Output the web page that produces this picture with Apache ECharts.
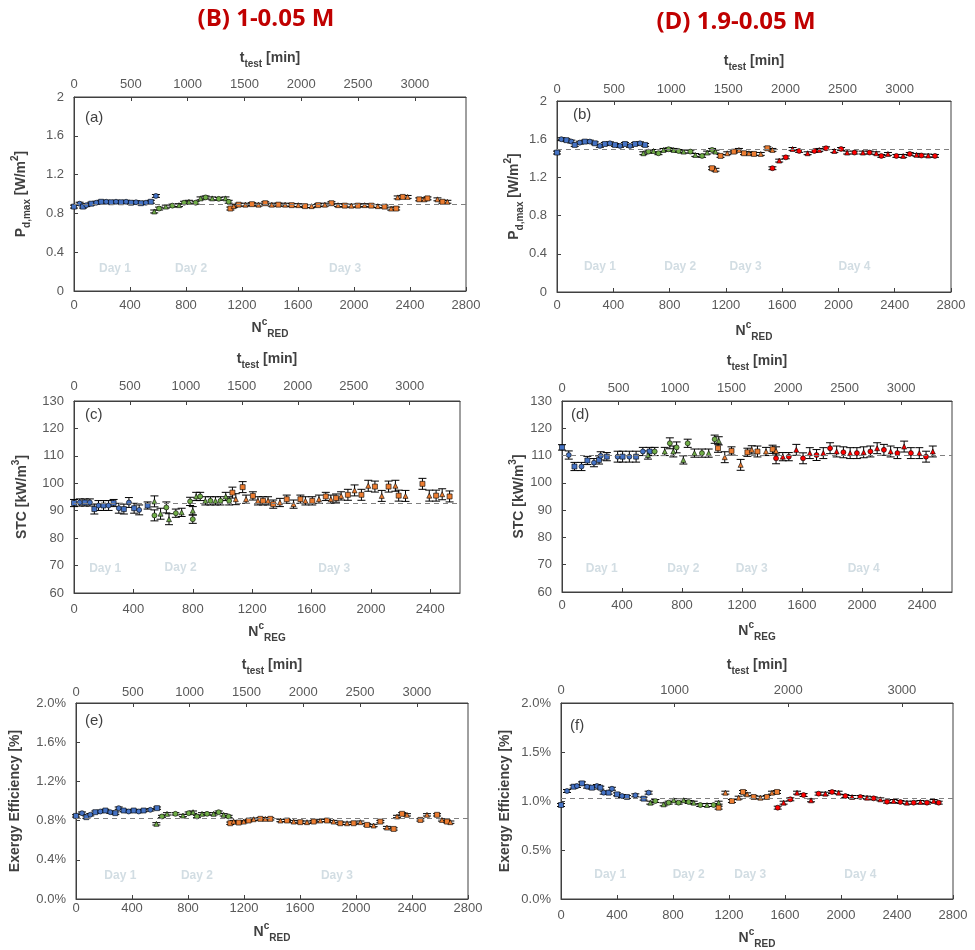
<!DOCTYPE html>
<html><head><meta charset="utf-8">
<script src="https://cdn.jsdelivr.net/npm/echarts/dist/echarts.min.js"></script>
<style>html,body{margin:0;padding:0;background:#fff}#c{width:975px;height:950px}</style>
</head><body><div id="c"></div>
<script>
// ---------- DATA ----------
// Panel (a) Pd,max (W/m2) vs N_RED, 1-0.05 M
const a_day1 = [[0,0.87],[40,0.90],[64,0.87],[88,0.885],[123,0.90],[159,0.91],[194,0.92],[230,0.92],[265,0.915],[300,0.92],[336,0.915],[372,0.92],[407,0.91],[443,0.915],[478,0.905],[514,0.91],[549,0.92],[585,0.98]];
const a_day2 = [[573,0.82],[608,0.85],[656,0.87],[703,0.88],[750,0.885],[786,0.91],[821,0.92],[869,0.91],[904,0.955],[940,0.965],[987,0.955],[1034,0.95],[1082,0.955],[1105,0.92]];
const a_day3 = [[1117,0.85],[1141,0.875],[1176,0.89],[1224,0.89],[1271,0.895],[1318,0.89],[1366,0.905],[1413,0.89],[1460,0.89],[1508,0.89],[1555,0.885],[1602,0.885],[1650,0.875],[1697,0.875],[1744,0.885],[1792,0.89],[1839,0.905],[1886,0.885],[1934,0.88],[1981,0.88],[2028,0.88],[2076,0.885],[2123,0.88],[2170,0.875],[2218,0.87],[2265,0.85],[2301,0.85],[2312,0.965],[2348,0.97],[2383,0.97],[2466,0.945],[2502,0.945],[2525,0.955],[2596,0.945],[2632,0.92],[2667,0.92]];
const a_err = 0.015;
const a_ref = 0.885;
const a_dayLabels = [[293,0.235,'Day 1'],[836,0.235,'Day 2'],[1936,0.235,'Day 3']];

// Panel (b) Pd,max, 1.9-0.05 M
const b_day1 = [[0,1.46],[31,1.60],[67,1.59],[102,1.575],[126,1.54],[162,1.564],[198,1.575],[233,1.575],[269,1.557],[305,1.53],[340,1.55],[376,1.557],[412,1.54],[448,1.53],[483,1.55],[519,1.53],[555,1.55],[590,1.557],[626,1.54]];
const b_day2 = [[614,1.453],[650,1.47],[686,1.477],[721,1.453],[757,1.488],[793,1.495],[829,1.488],[864,1.477],[900,1.47],[948,1.47],[983,1.435],[1031,1.425],[1067,1.46],[1102,1.488],[1126,1.47]];
const b_day3 = [[1102,1.296],[1126,1.28],[1162,1.425],[1210,1.453],[1257,1.47],[1293,1.488],[1329,1.453],[1364,1.453],[1400,1.446],[1448,1.446],[1495,1.505],[1531,1.488]];
const b_day4 = [[1531,1.296],[1579,1.376],[1626,1.41],[1674,1.498],[1721,1.477],[1781,1.453],[1829,1.477],[1864,1.488],[1912,1.505],[1971,1.477],[2019,1.498],[2062,1.46],[2114,1.46],[2174,1.46],[2221,1.46],[2269,1.453],[2305,1.425],[2352,1.446],[2412,1.425],[2460,1.425],[2507,1.446],[2555,1.436],[2590,1.429],[2638,1.429],[2686,1.425]];
const b_err = 0.015;
const b_ref = 1.49;
const b_dayLabels = [[305,0.268,'Day 1'],[876,0.268,'Day 2'],[1340,0.268,'Day 3'],[2114,0.268,'Day 4']];

// Panel (c) STC (kW/m3) vs N_REG, 1-0.05 M   [x, value, error]
const c_day1 = [[0,92.8,1.3],[39,93.0,1.3],[73,93.0,1.3],[107,93.0,1.3],[137,90.6,1.8],[165,91.9,1.8],[199,91.9,1.8],[233,91.9,1.8],[267,92.8,1.3],[302,90.9,1.8],[336,90.6,1.8],[370,93.0,1.8],[405,90.9,1.8],[439,90.3,1.8],[496,91.9,1.3]];
const c_day2 = [[542,93.4,2],[542,88.3,2],[583,88.9,2],[622,91.2,2],[640,86.9,2],[686,89.1,1.5],[725,89.4,1.5],[782,93.4,1.5],[800,90.0,1.5],[800,86.9,1.5],[823,95.2,1.5],[850,95.2,1.5],[885,93.6,1.5],[919,93.6,1.5],[953,93.6,1.5],[987,93.6,1.5],[1022,95.2,1.5],[1045,93.6,1.5]];
const c_day3 = [[1067,96.6,2],[1090,94.2,2],[1136,98.6,2],[1159,94.2,1.5],[1205,95.4,1.5],[1239,93.6,1.5],[1273,93.6,1.5],[1307,93.6,1.5],[1342,92.4,1.5],[1387,93.0,1.5],[1433,94.2,1.5],[1479,92.4,1.5],[1525,94.2,1.5],[1559,93.6,1.5],[1605,93.6,1.5],[1650,94.2,1.5],[1696,95.2,1.5],[1730,94.2,1.5],[1765,94.6,1.5],[1799,95.4,1.5],[1845,95.8,2],[1890,97.4,2],[1936,95.8,2],[1982,99.1,2],[2027,98.8,2],[2073,95.4,2],[2119,98.8,2],[2165,99.1,2],[2187,95.5,2],[2233,95.4,2],[2347,99.8,2],[2393,95.5,2],[2439,95.5,2],[2480,96.0,2],[2530,95.2,2]];
const c_ref = 92.75;
const c_dayLabels = [[210,68.7,'Day 1'],[718,69.1,'Day 2'],[1753,68.7,'Day 3']];

// Panel (d) STC, 1.9-0.05 M   [x, value, error]
const d_day1 = [[0,113.0,1],[45,110.2,1.5],[83,106.0,1.5],[130,106.0,1.5],[169,108.2,1.5],[213,107.4,1.5],[247,108.4,1.5],[258,109.9,1.5],[299,109.6,1.5],[371,109.6,2],[404,109.6,2],[449,109.6,2],[494,109.6,2],[539,111.5,1.5],[584,111.5,1.5]];
const d_day2 = [[573,110.2,1.5],[618,111.5,1.5],[685,111.5,1.5],[719,114.5,2],[742,111.5,2],[764,113.0,2],[809,108.4,1.5],[838,114.5,1.5],[883,110.9,1.5],[933,110.9,1.5],[978,110.9,1.5],[1018,116.0,1.5],[1045,115.4,1.5]];
const d_day3 = [[1040,112.7,1.5],[1085,109.4,2],[1130,111.7,1.5],[1191,106.6,2],[1236,111.2,1.5],[1265,112.1,1.5],[1303,111.5,2],[1360,111.5,1.5],[1404,112.3,1.5],[1427,111.7,1.5]];
const d_day4 = [[1427,109.0,2],[1472,109.6,1.5],[1512,109.6,1.5],[1562,112.1,2],[1607,109.0,2],[1652,110.9,2],[1697,110.2,2],[1742,110.9,2],[1787,112.7,2],[1831,111.5,2],[1876,111.2,2],[1921,110.9,2],[1966,110.9,2],[2011,111.2,2],[2056,111.5,2],[2101,112.7,2],[2146,112.1,2],[2191,111.5,2],[2236,110.9,2],[2281,113.3,2],[2326,110.9,2],[2382,110.9,2],[2427,109.6,2],[2472,111.5,2]];
const d_ref = 110.3;
const d_dayLabels = [[265,68.4,'Day 1'],[809,68.4,'Day 2'],[1265,68.4,'Day 3'],[2011,68.4,'Day 4']];

// Panel (e) Exergy efficiency (%) , 1-0.05 M
const e_day1 = [[0,0.848],[43,0.876],[74,0.835],[102,0.86],[138,0.886],[174,0.893],[210,0.903],[245,0.886],[281,0.876],[305,0.927],[340,0.903],[376,0.893],[412,0.903],[448,0.893],[483,0.903],[531,0.91],[579,0.927]];
const e_day2 = [[574,0.767],[614,0.842],[650,0.869],[710,0.869],[764,0.852],[805,0.876],[836,0.886],[864,0.842],[900,0.869],[936,0.869],[983,0.869],[1019,0.886],[1055,0.859],[1090,0.842]];
const e_day3 = [[1102,0.773],[1126,0.79],[1162,0.78],[1198,0.79],[1233,0.801],[1269,0.814],[1317,0.818],[1352,0.818],[1388,0.818],[1460,0.801],[1507,0.801],[1555,0.79],[1602,0.784],[1650,0.784],[1698,0.79],[1745,0.801],[1793,0.801],[1840,0.79],[1888,0.773],[1936,0.773],[1983,0.773],[2031,0.784],[2079,0.756],[2126,0.75],[2174,0.79],[2221,0.729],[2269,0.715],[2293,0.842],[2329,0.869],[2364,0.859],[2460,0.807],[2507,0.859],[2579,0.859],[2614,0.807],[2650,0.79],[2674,0.784]];
const e_err = 0.012;
const e_ref = 0.825;
const e_dayLabels = [[317,0.239,'Day 1'],[864,0.239,'Day 2'],[1864,0.239,'Day 3']];

// Panel (f) Exergy efficiency (%), 1.9-0.05 M
const f_day1 = [[0,0.959],[43,1.102],[90,1.146],[114,1.153],[150,1.18],[186,1.146],[221,1.136],[257,1.153],[281,1.136],[305,1.085],[340,1.085],[364,1.125],[400,1.068],[436,1.051],[471,1.041],[531,1.058],[590,1.024],[626,1.085]];
const f_day2 = [[638,0.983],[674,1.0],[733,0.966],[769,0.983],[805,1.008],[840,0.983],[876,1.008],[912,0.99],[948,0.983],[995,0.959],[1043,0.959],[1090,0.959],[1126,0.983]];
const f_day3 = [[1126,0.932],[1174,1.085],[1221,1.0],[1269,1.034],[1300,1.092],[1329,1.068],[1376,1.041],[1424,1.034],[1471,1.041],[1507,1.085],[1543,1.092]];
const f_day4 = [[1548,0.932],[1590,0.983],[1638,1.017],[1686,1.085],[1733,1.061],[1786,1.007],[1840,1.075],[1888,1.075],[1936,1.092],[1983,1.085],[2031,1.051],[2079,1.041],[2138,1.041],[2186,1.034],[2233,1.027],[2281,1.017],[2329,0.993],[2376,1.0],[2424,0.99],[2471,0.983],[2519,0.983],[2567,0.99],[2614,0.983],[2662,1.0],[2698,0.983]];
const f_err = 0.015;
const f_ref = 1.034;
const f_dayLabels = [[352,0.247,'Day 1'],[912,0.247,'Day 2'],[1352,0.247,'Day 3'],[2138,0.247,'Day 4']];

// titles
const titleLeft = '(B) 1-0.05 M';
const titleRight = '(D) 1.9-0.05 M';

// ---------- STYLE / LAYOUT ----------
const FONT = 'Liberation Sans, Arial, sans-serif';
const COLORS = ['#4472C4','#70AD47','#ED7D31','#FF0000'];
const SHAPES = [['rect','circle'],['triangle','circle'],['rect','triangle'],['circle','triangle']];
const AX = '#404040', LBL = '#595959';
const rich = {
  b:{fontSize:14,fontWeight:'bold',color:AX,fontFamily:FONT,lineHeight:22,verticalAlign:'middle'},
  sub:{fontSize:10,fontWeight:'bold',color:AX,fontFamily:FONT,lineHeight:11,verticalAlign:'bottom'},
  sup:{fontSize:10,fontWeight:'bold',color:AX,fontFamily:FONT,lineHeight:11,verticalAlign:'top'}
};
const NAME_P = '{b|P}{sub|d,max}{b| [W/m}{sup|2}{b|]}';
const NAME_STC = '{b|STC [kW/m}{sup|3}{b|]}';
const NAME_EX = '{b|Exergy Efficiency [%]}';
const NAME_RED = '{b|N}{sup|c}{sub|RED}';
const NAME_REG = '{b|N}{sup|c}{sub|REG}';
const NAME_T = '{b|t}{sub|test}{b| [min]}';
const pct = v => v.toFixed(1) + '%';
const plain = v => String(+v.toFixed(3));

const panels = [
  {lab:'(a)', days:[a_day1,a_day2,a_day3], err:a_err, ref:a_ref, dl:a_dayLabels,
   grid:{left:74,top:97,width:392,height:194}, xMax:2800, xName:NAME_RED, showMax:true,
   bMargin:8, bGap:26, tMargin:6, tGap:28, topInt:500,
   yMin:0,yMax:2,yInt:0.4,yFmt:plain,yName:NAME_P,yGap:42, labPos:[85,110]},
  {lab:'(b)', days:[b_day1,b_day2,b_day3,b_day4], err:b_err, ref:b_ref, dl:b_dayLabels,
   grid:{left:557,top:101,width:394,height:191}, xMax:2800, xName:NAME_RED, showMax:true,
   bMargin:7, bGap:28, tMargin:5, tGap:29, topInt:500,
   yMin:0,yMax:2,yInt:0.4,yFmt:plain,yName:NAME_P,yGap:22, labPos:[573,107]},
  {lab:'(c)', days:[c_day1,c_day2,c_day3], err:null, ref:c_ref, dl:c_dayLabels,
   grid:{left:74,top:401,width:386,height:192}, xMax:2600, xName:NAME_REG, showMax:false,
   bMargin:10, bGap:28, tMargin:8, tGap:31, topInt:500,
   yMin:60,yMax:130,yInt:10,yFmt:plain,yName:NAME_STC,yGap:41, labPos:[85,407]},
  {lab:'(d)', days:[d_day1,d_day2,d_day3,d_day4], err:null, ref:d_ref, dl:d_dayLabels,
   grid:{left:562,top:401,width:390,height:191}, xMax:2600, xName:NAME_REG, showMax:false,
   bMargin:7, bGap:28, tMargin:6, tGap:29, topInt:500,
   yMin:60,yMax:130,yInt:10,yFmt:plain,yName:NAME_STC,yGap:30, labPos:[571,407]},
  {lab:'(e)', days:[e_day1,e_day2,e_day3], err:e_err, ref:e_ref, dl:e_dayLabels,
   grid:{left:76,top:703,width:392,height:196}, xMax:2800, xName:NAME_RED, showMax:true,
   bMargin:3, bGap:22, tMargin:4, tGap:27, topInt:500,
   yMin:0,yMax:2,yInt:0.4,yFmt:pct,yName:NAME_EX,yGap:50, labPos:[85,713]},
  {lab:'(f)', days:[f_day1,f_day2,f_day3,f_day4], err:f_err, ref:f_ref, dl:f_dayLabels,
   grid:{left:561,top:703,width:392,height:197}, xMax:2800, xName:NAME_RED, showMax:true,
   bMargin:10, bGap:28, tMargin:6, tGap:27, topInt:1000,
   yMin:0,yMax:2,yInt:0.5,yFmt:pct,yName:NAME_EX,yGap:45, labPos:[570,718]}
];

const grids = [], xAxes = [], yAxes = [], series = [];
function renderErr(params, api) {
  const x = api.value(0), lo = api.value(1), hi = api.value(2);
  const p1 = api.coord([x, hi]), p2 = api.coord([x, lo]);
  const hw = 4, st = {stroke:'#000', lineWidth:1};
  return {type:'group', children:[
    {type:'line', shape:{x1:p1[0],y1:p1[1],x2:p2[0],y2:p2[1]}, style:st},
    {type:'line', shape:{x1:p1[0]-hw,y1:p1[1],x2:p1[0]+hw,y2:p1[1]}, style:st},
    {type:'line', shape:{x1:p2[0]-hw,y1:p2[1],x2:p2[0]+hw,y2:p2[1]}, style:st}
  ]};
}
panels.forEach((p, i) => {
  grids.push(Object.assign({show:true, borderColor:AX, borderWidth:1, backgroundColor:'transparent'}, p.grid));
  xAxes.push({type:'value', gridIndex:i, position:'bottom', min:0, max:p.xMax, interval:400,
    axisLine:{onZero:false, lineStyle:{color:AX,width:1}},
    axisTick:{inside:true,length:4,lineStyle:{color:AX}},
    axisLabel:{color:LBL,fontSize:13,fontFamily:FONT,margin:p.bMargin,showMaxLabel:p.showMax,formatter:plain},
    splitLine:{show:false},
    name:p.xName, nameLocation:'middle', nameGap:p.bGap, nameTextStyle:{rich:rich}});
  xAxes.push({type:'value', gridIndex:i, position:'top', min:0, max:3450, interval:p.topInt,
    axisLine:{onZero:false, lineStyle:{color:AX,width:1}},
    axisTick:{inside:true,length:4,lineStyle:{color:AX}},
    axisLabel:{color:LBL,fontSize:13,fontFamily:FONT,margin:p.tMargin,showMaxLabel:false,formatter:plain},
    splitLine:{show:false},
    name:NAME_T, nameLocation:'middle', nameGap:p.tGap, nameTextStyle:{rich:rich}});
  yAxes.push({type:'value', gridIndex:i, min:p.yMin, max:p.yMax, interval:p.yInt,
    axisLine:{show:true,onZero:false, lineStyle:{color:AX,width:1}},
    axisTick:{show:true,inside:true,length:4,lineStyle:{color:AX}},
    axisLabel:{color:LBL,fontSize:13,fontFamily:FONT,margin:10,formatter:p.yFmt},
    splitLine:{show:false},
    name:p.yName, nameLocation:'middle', nameRotate:90, nameGap:p.yGap, nameTextStyle:{rich:rich}});
  const xi = 2*i, yi = i;
  p.days.forEach((d, k) => {
    const errData = d.map(pt => {
      const e = p.err !== null ? p.err : pt[2];
      return [pt[0], pt[1]-e, pt[1]+e];
    });
    series.push({type:'custom', xAxisIndex:xi, yAxisIndex:yi, renderItem:renderErr,
      encode:{x:0,y:[1,2]}, data:errData, z:2, silent:true, animation:false});
    series.push({type:'scatter', xAxisIndex:xi, yAxisIndex:yi, data:d.map(pt=>[pt[0],pt[1]]),
      symbol:(v, prm) => SHAPES[k][prm.dataIndex % 2], symbolSize:5,
      itemStyle:{color:COLORS[k], borderColor:'#000', borderWidth:0.6, opacity:1},
      z:3, silent:true, animation:false,
      markLine: k === 0 ? {symbol:'none', silent:true, animation:false, label:{show:false},
        lineStyle:{type:[5,4], color:'#808080', width:1.2}, data:[{yAxis:p.ref}]} : undefined});
  });
  series.push({type:'scatter', xAxisIndex:xi, yAxisIndex:yi, data:p.dl, symbolSize:1,
    itemStyle:{color:'transparent'}, silent:true, animation:false, z:1,
    label:{show:true, position:'inside', formatter:prm => prm.data[2], color:'#c7d4dc',
      fontSize:12, fontWeight:'bold', fontFamily:FONT}});
});

const graphics = [
  {type:'text', x:266, y:19, style:{text:titleLeft, fill:'#C00000', align:'center', verticalAlign:'middle', font:'bold 24px "Open Sans", sans-serif'}},
  {type:'text', x:736, y:22, style:{text:titleRight, fill:'#C00000', align:'center', verticalAlign:'middle', font:'bold 24px "Open Sans", sans-serif'}}
];
panels.forEach(p => graphics.push({type:'text', left:p.labPos[0], top:p.labPos[1],
  style:{text:p.lab, fill:AX, font:'15px ' + FONT}}));

const chart = echarts.init(document.getElementById('c'), null, {renderer:'canvas'});
chart.setOption({animation:false, backgroundColor:'#fff', grid:grids, xAxis:xAxes, yAxis:yAxes, series:series, graphic:graphics});
</script></body></html>
